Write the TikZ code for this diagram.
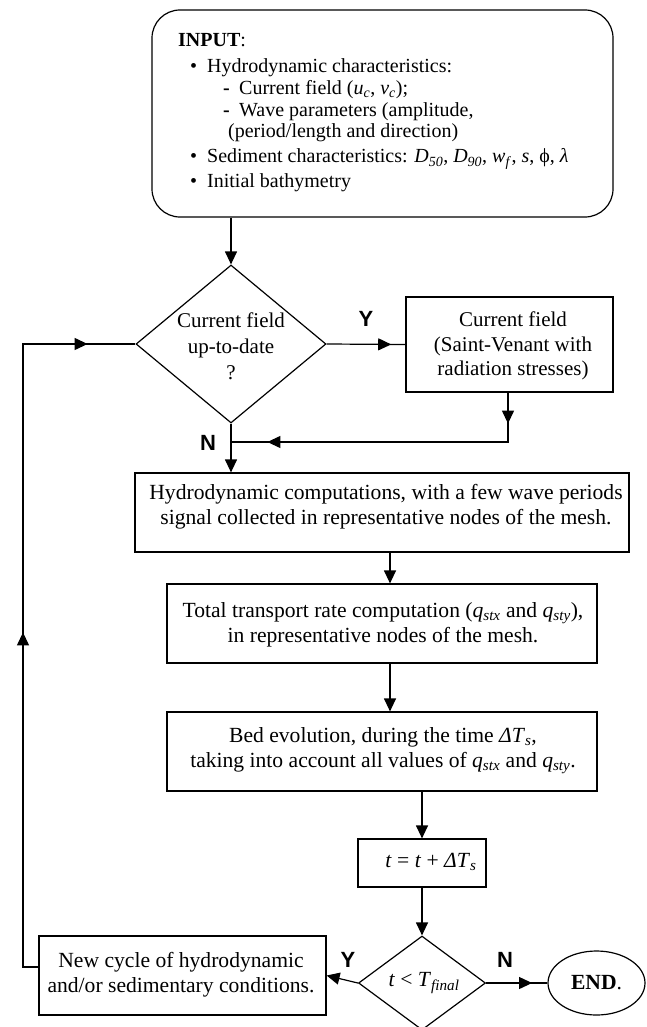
\documentclass[tikz,border=0pt]{standalone}
\usepackage{fontspec}
\setmainfont{Liberation Serif}
\newfontfamily\lsans{Liberation Sans}
\usetikzlibrary{arrows.meta,decorations.markings,shapes.geometric}
\newcommand{\vi}[1]{\textit{#1}}
\newcommand{\ssub}[1]{\textsubscript{\textit{#1}}}
\tikzset{
  >={Triangle[length=13pt,width=12pt]},
  conn/.style={line width=1.2pt, draw=black},
  box/.style={draw=black, line width=1.2pt, rectangle, inner sep=0pt},
  dia/.style={draw=black, line width=1.2pt, diamond, inner sep=0pt},
  txt/.style={font=\fontsize{21.6}{25}\selectfont, align=center, inner sep=0pt},
  intxt/.style={font=\fontsize{20}{24}\selectfont, anchor=base west, inner sep=0pt},
  yn/.style={font=\lsans\bfseries\fontsize{22}{24}\selectfont, inner sep=0pt},
  marr/.style={postaction={decorate}, decoration={markings, mark=at position #1 with {\arrow{>}}}},
}
\begin{document}
\begin{tikzpicture}[x=1pt,y=-1pt]
\useasboundingbox (0,0) rectangle (647,1027);

% INPUT box
\node[box, rounded corners=28pt, minimum width=461pt, minimum height=207pt] (input) at (382.5,113.5) {};
\node[intxt] (in0) at (178,46.7) {\textbf{INPUT}:};
\node[intxt] (in1) at (190,73) {\makebox[17pt][l]{\textbullet}Hydrodynamic characteristics:};
\node[intxt] (in2) at (223,94.5) {\makebox[16pt][l]{\textbf{-}}Current field (\vi{u}\ssub{c}, \vi{v}\ssub{c});};
\node[intxt] (in3) at (223,117) {\makebox[16pt][l]{\textbf{-}}Wave parameters (amplitude,};
\node[intxt] (in4) at (228,138) {(period/length and direction)};
\node[intxt] (in5) at (190,163) {\makebox[17pt][l]{\textbullet}Sediment characteristics: \vi{D}\ssub{50}, \vi{D}\ssub{90}, \vi{w}\ssub{f}, \vi{s}, ϕ, \vi{λ}};
\node[intxt] (in6) at (190,188) {\makebox[17pt][l]{\textbullet}Initial bathymetry};

% decision 1
\node[dia, minimum width=190pt, minimum height=158pt] (d1) at (231,344) {};
\node[txt, font=\fontsize{21}{26}\selectfont] (d1t) at (231,346) {Current field\\up-to-date\\?};

% current field box
\node[box, minimum width=207pt, minimum height=95pt] (cf) at (509.5,344.5) {};
\node[txt, font=\fontsize{21}{24.5}\selectfont] (cft) at (513,346) {Current field\\(Saint-Venant with\\radiation stresses)};

% main boxes
\node[box, minimum width=494pt, minimum height=79pt] (hydro) at (382,512.5) {};
\node[txt] (hydrot) at (386,506.5) {Hydrodynamic computations, with a few wave periods\\signal collected in representative nodes of the mesh.};

\node[box, minimum width=430pt, minimum height=79pt] (tr) at (382,623.5) {};
\node[txt] (trt) at (383,625) {Total transport rate computation (\vi{q}\ssub{stx} and \vi{q}\ssub{sty}),\\in representative nodes of the mesh.};

\node[box, minimum width=430pt, minimum height=79pt] (bed) at (382,751.5) {};
\node[txt] (bedt) at (383,751) {Bed evolution, during the time \vi{ΔT}\ssub{s},\\taking into account all values of \vi{q}\ssub{stx} and \vi{q}\ssub{sty}.};

\node[box, minimum width=128pt, minimum height=48pt] (tb) at (422,863) {};
\node[txt] (tbt) at (431,862) {\vi{t} = \vi{t} + \vi{ΔT}\ssub{s}};

% decision 2
\node[dia, minimum width=127pt, minimum height=94pt] (d2) at (422,983) {};
\node[txt] (d2t) at (424,983) {\vi{t} < \vi{T}\ssub{final}};

\node[box, minimum width=287pt, minimum height=79pt] (nc) at (182.5,975.5) {};
\node[txt] (nct) at (181,974.5) {New cycle of hydrodynamic\\and/or sedimentary conditions.};

\node[draw=black, line width=1.2pt, ellipse, minimum width=97pt, minimum height=64pt, inner sep=0pt, font=\fontsize{21.6}{25}\selectfont] (endn) at (596.5,983) {\textbf{END}.};

% labels
\node[yn] (y1) at (366,319) {Y};
\node[yn] (n1) at (208,443) {N};
\node[yn] (y2) at (348,960) {Y};
\node[yn] (n2) at (505,960) {N};

% connectors
\coordinate (merge) at (231,442);
\coordinate (lx) at (23,0);
\draw[conn,->] (d1.north |- input.south) -- (d1.north);
\draw[conn,marr=0.82] (d1.east) -- (cf.west);
\draw[conn, postaction={decorate}, decoration={markings,
   mark=at position 31pt with {\arrow{>}},
   mark=at position 290pt with {\arrow{>}}}]
   (cf.south -| 508,0) |- (merge);
\draw[conn,->] (d1.south) -- (d1.south |- hydro.north);
\draw[conn,->] ([xshift=8pt]hydro.south) -- ([xshift=8pt]tr.north);
\draw[conn,->] ([xshift=8pt]tr.south) -- ([xshift=8pt]bed.north);
\draw[conn,->] (tb.north |- bed.south) -- (tb.north);
\draw[conn,->] (tb.south) -- (d2.north);
\draw[conn,->] (d2.west) -- (nc.east);
\draw[conn,marr=0.75] (d2.east) -- (endn.west);
\draw[conn, postaction={decorate}, decoration={markings,
   mark=at position 350pt with {\arrow{>}},
   mark=at position 703pt with {\arrow{>}}}]
   ([yshift=8.5pt]nc.west) -- ([yshift=8.5pt]nc.west -| lx) -- (lx |- d1.west) -- (d1.west);
\end{tikzpicture}
\end{document}
